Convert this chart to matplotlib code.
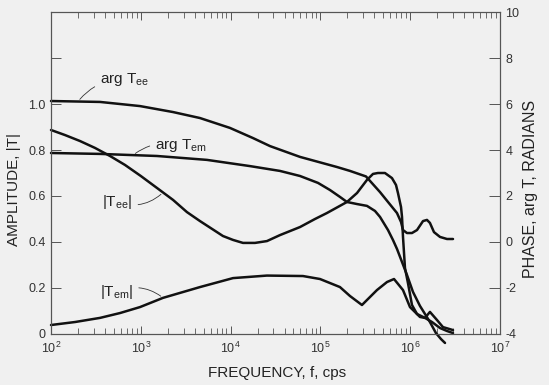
import numpy as np
import matplotlib.pyplot as plt
from matplotlib.ticker import LogLocator, NullFormatter, FixedLocator

FONT = ['Liberation Sans Narrow', 'Liberation Sans', 'DejaVu Sans']
plt.rcParams['font.family'] = FONT
plt.rcParams['mathtext.fontset'] = 'custom'
plt.rcParams['mathtext.rm'] = 'Liberation Sans'
plt.rcParams['axes.unicode_minus'] = False

# frequencies stored as log10(f / cps)
# |Tee| amplitude
tee_amp_logf = [2.000, 2.156, 2.323, 2.490, 2.657, 2.824, 3.000, 3.180, 3.359, 3.514,
                3.659, 3.793, 3.915, 4.027, 4.138, 4.272, 4.405, 4.550, 4.773, 4.940,
                5.073, 5.296, 5.408, 5.519, 5.586, 5.641, 5.719, 5.797, 5.842, 5.864,
                5.898, 5.909, 5.920, 5.942, 5.975, 6.020, 6.076, 6.165, 6.243, 6.332,
                6.410, 6.477]
tee_amp = [0.887, 0.865, 0.839, 0.809, 0.774, 0.735, 0.687, 0.635, 0.583, 0.530,
           0.491, 0.457, 0.426, 0.409, 0.396, 0.396, 0.404, 0.430, 0.465, 0.500,
           0.526, 0.574, 0.613, 0.670, 0.696, 0.700, 0.700, 0.678, 0.648, 0.613,
           0.552, 0.509, 0.422, 0.287, 0.222, 0.126, 0.087, 0.070, 0.052, 0.026,
           0.013, 0.004]

# |Tem| amplitude
tem_amp_logf = [2.000, 2.267, 2.546, 2.768, 2.991, 3.247, 3.659, 4.027, 4.405, 4.806,
                4.996, 5.218, 5.330, 5.463, 5.630, 5.742, 5.820, 5.920, 5.998, 6.109,
                6.165, 6.220, 6.298, 6.365, 6.477]
tem_amp = [0.039, 0.052, 0.070, 0.091, 0.117, 0.157, 0.204, 0.243, 0.254, 0.252,
           0.239, 0.204, 0.165, 0.126, 0.191, 0.226, 0.239, 0.191, 0.117, 0.074,
           0.070, 0.096, 0.061, 0.030, 0.017]

# arg Tee phase, radians
tee_ph_logf = [2.000, 2.546, 2.991, 3.359, 3.659, 3.993, 4.249, 4.439, 4.773, 5.185,
               5.330, 5.508, 5.664, 5.753, 5.853, 5.898, 5.920, 5.964, 6.020, 6.076,
               6.143, 6.187, 6.220, 6.265, 6.332, 6.410, 6.477]
tee_ph = [6.13, 6.09, 5.91, 5.65, 5.39, 4.96, 4.52, 4.17, 3.70, 3.26,
          3.09, 2.85, 2.17, 1.74, 1.26, 0.87, 0.52, 0.39, 0.39, 0.52,
          0.91, 0.96, 0.83, 0.43, 0.22, 0.13, 0.13]

# arg Tem phase, radians
tem_ph_logf = [2.000, 2.546, 3.180, 3.737, 4.216, 4.550, 4.773, 4.973, 5.107, 5.218,
               5.296, 5.408, 5.519, 5.608, 5.664, 5.753, 5.808, 5.853, 5.909, 5.964,
               6.031, 6.109, 6.165, 6.220, 6.287, 6.343, 6.388]
tem_ph = [3.87, 3.83, 3.74, 3.57, 3.30, 3.09, 2.87, 2.57, 2.26, 1.96,
          1.74, 1.65, 1.57, 1.35, 1.09, 0.52, 0.09, -0.30, -0.87, -1.43,
          -2.17, -2.78, -3.13, -3.48, -3.96, -4.22, -4.39]

tee_amp_f = 10.0 ** np.array(tee_amp_logf)
tem_amp_f = 10.0 ** np.array(tem_amp_logf)
tee_ph_f = 10.0 ** np.array(tee_ph_logf)
tem_ph_f = 10.0 ** np.array(tem_ph_logf)

fig = plt.figure(figsize=(5.49, 3.85), dpi=100, facecolor='#f0f0f0')
ax = fig.add_axes([0.0929, 0.1325, 0.8178, 0.8363])
ax.set_facecolor('#f0f0f0')
ax2 = ax.twinx()

lw = 1.8
ink = '#111111'
style = dict(color=ink, lw=lw, clip_on=False, solid_capstyle='round', solid_joinstyle='round')
ax.plot(tee_amp_f, tee_amp, **style)
ax.plot(tem_amp_f, tem_amp, **style)
ax2.plot(tee_ph_f, tee_ph, **style)
ax2.plot(tem_ph_f, tem_ph, **style)

ax.set_xscale('log')
ax.set_xlim(1e2, 1e7)
ax.set_ylim(0, 1.4)
ax2.set_ylim(-4, 10)

decades = [2, 3, 4, 5, 6, 7]
ax.set_xticks([10.0 ** d for d in decades])
ax.set_xticklabels([r'$10^{%d}$' % d for d in decades])
ax.xaxis.set_minor_locator(LogLocator(base=10, subs=np.arange(2, 10), numticks=20))
ax.xaxis.set_minor_formatter(NullFormatter())

amp_ticks = [0, 0.2, 0.4, 0.6, 0.8, 1.0, 1.2]
amp_labels = ['0', '0.2', '0.4', '0.6', '0.8', '1.0', '']
ax.yaxis.set_major_locator(FixedLocator(amp_ticks))
ax.set_yticklabels(amp_labels)
ph_ticks = [-4, -2, 0, 2, 4, 6, 8, 10]
ax2.yaxis.set_major_locator(FixedLocator(ph_ticks))
ax2.set_yticklabels([str(t) for t in ph_ticks])

spine_c = '#555555'
for a in (ax, ax2):
    for s in a.spines.values():
        s.set_color(spine_c)
        s.set_linewidth(0.8)

ax.tick_params(axis='x', which='both', direction='in', top=True, bottom=True,
               color=spine_c, labelsize=9, pad=5, labelcolor='#333333')
ax.tick_params(axis='x', which='major', length=6, width=0.7)
ax.tick_params(axis='x', which='minor', length=4, width=0.6)
ax.tick_params(axis='y', direction='in', left=True, right=False, length=7, width=0.7,
               color=spine_c, labelsize=9, pad=4, labelcolor='#333333')
ax2.tick_params(axis='y', direction='in', right=True, left=False, length=8, width=0.7,
                color=spine_c, labelsize=9, pad=4, labelcolor='#333333')

ax.set_ylabel('AMPLITUDE, |T|', fontsize=11, color='#222222')
ax.yaxis.set_label_coords(-0.066, 0.45)
ax2.set_ylabel('PHASE, arg T, RADIANS', fontsize=11.5, color='#222222')
ax2.yaxis.set_label_coords(1.052, 0.45)
ax.set_xlabel('FREQUENCY, f, cps', fontsize=11, color='#222222')
ax.xaxis.set_label_coords(0.503, -0.1)

# curve labels with thin leader lines
lead = dict(arrowstyle='-', color='#333333', lw=0.6, connectionstyle='arc3,rad=0.25')
tfont = dict(fontsize=11, color='#222222', va='center', ha='left')


def on_curve(f, xs, ys):
    return f, np.interp(np.log10(f), np.log10(xs), ys)


ax2.annotate(r'arg T$_{\mathrm{ee}}$', xy=on_curve(2.0e2, tee_ph_f, tee_ph),
             xytext=(0.109, 0.79), textcoords='axes fraction', arrowprops=lead, **tfont)
ax2.annotate(r'arg T$_{\mathrm{em}}$', xy=on_curve(8.2e2, tem_ph_f, tem_ph),
             xytext=(0.232, 0.585), textcoords='axes fraction', arrowprops=lead, **tfont)
ax.annotate(r'|T$_{\mathrm{ee}}$|', xy=on_curve(1.77e3, tee_amp_f, tee_amp),
            xytext=(0.114, 0.41), textcoords='axes fraction',
            arrowprops=dict(lead, connectionstyle='arc3,rad=0.3'), **tfont)
ax.annotate(r'|T$_{\mathrm{em}}$|', xy=on_curve(1.77e3, tem_amp_f, tem_amp),
            xytext=(0.109, 0.13), textcoords='axes fraction',
            arrowprops=dict(lead, connectionstyle='arc3,rad=-0.3'), **tfont)

fig.savefig('out.png', dpi=100, facecolor=fig.get_facecolor())
